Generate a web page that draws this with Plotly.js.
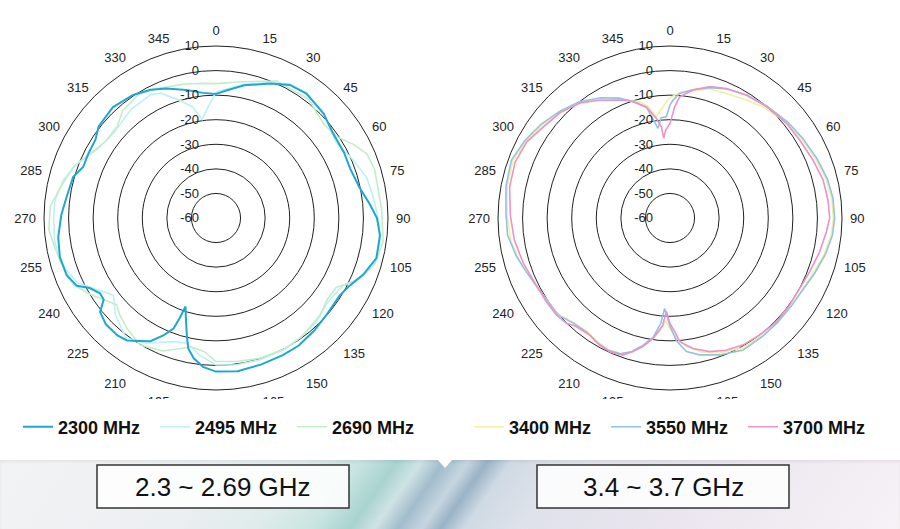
<!DOCTYPE html>
<html>
<head>
<meta charset="utf-8">
<script src="https://cdn.plot.ly/plotly-3.0.1.min.js"></script>
<style>
  body { margin: 0; background: #fff; }
  #wrap { position: relative; width: 900px; height: 529px; overflow: hidden; background: #fff; }
  #band {
    position: absolute; left: 0; top: 460px; width: 900px; height: 69px;
    background: linear-gradient(125deg, #f2f3f5 0%, #eceff1 22%, #dfeceb 32%, #c9e5e1 38%, #a9d3cf 42%, #cfe3e4 44.5%, #a2bccc 47%, #c6d6e0 49.5%, #9ab3c6 51.5%, #cfdae4 54%, #dfe2ea 60%, #e8e4ee 72%, #f0eaf2 86%, #f7f2f6 100%);
    box-shadow: inset 0 2px 3px rgba(0,0,0,0.06);
  }
  #notch {
    position: absolute; left: 437px; top: 459px; width: 0; height: 0;
    border-left: 8px solid transparent; border-right: 8px solid transparent; border-top: 9px solid #fff;
  }
  #chart { position: absolute; left: 0; top: 0; width: 900px; height: 529px; }
</style>
</head>
<body>
<div id="wrap">
  <div id="band"></div>
  <div id="notch"></div>
  <div id="chart"></div>
</div>
<script>
// angular ticks and radial rings
var angleTicks = [0,15,30,45,60,75,90,105,120,135,150,165,180,195,210,225,240,255,270,285,300,315,330,345];
var ringTicks = [-60,-50,-40,-30,-20,-10,0,10];

// 2.3 ~ 2.69 GHz
var theta2300 = [0,5,12,22,29,36,46,54,63,70,78,85,90,96,104,111,117,122,131,139,147,154,163,172,180,185,189,192,194,197,199,200,201,204,208,212,216,220,226,231,234,237,241,244,249,256,263,271,278,286,291,297,303,308,317,326,333,339,347,354,360];
var r2300 = [-9.5,-7.8,-4.8,-1,1.9,2.6,1,-1.2,-1.5,-1.8,-0.3,2.9,5.5,7.1,7.3,4.2,0.9,-0.6,-0.2,0.8,1.9,2.1,2.4,3,2.5,0.8,-2.2,-5.7,-10.9,-18,-21.9,-16.6,-11.8,-7.8,-3.2,-1,1.6,2.4,2.3,0.7,-3.5,-3.7,-1.2,3,5.1,5.5,4.7,3,1.4,0.5,-2.1,-1.8,-1.5,0.6,1.6,0.4,-1.4,-3.5,-6.5,-8.8,-9.5];

var theta2495 = [0,2,12,22,29,36,46,52,58,67,75,82,90,99,107,113,118,127,136,145,153,163,172,180,187,193,199,209,217,226,233,239,245,254,262,270,276,284,291,300,310,322,332,336,343,348,352,356,360];
var r2495 = [-8.8,-8.2,-4.3,-0.5,2.3,2.8,1,-1,-2.3,0.6,3.5,4.5,6,7.6,6.8,3.4,-1.5,-3.1,-1.2,-0.4,0.3,0.4,0.3,-0.2,-3.9,-7.7,-6.8,-1.7,1,-3.1,-7.8,-3.4,2.3,5.9,6.3,6.1,5.9,4,0.8,-4.2,-5.9,-3.9,-3.2,-4.4,-9.9,-13.8,-19.5,-14.6,-8.8];

var theta2690 = [0,11,24,38,49,56,62,67,73,80,87,98,106,114,120,126,133,143,152,163,172,180,185,191,195,202,211,219,225,229,233,239,245,252,259,266,274,281,290,297,305,313,319,328,335,347,355,360];
var r2690 = [-5.3,-3.5,1,1.3,-1.8,-0.8,3.6,6.7,7.5,7,7.5,8.7,7.4,2.5,-3.5,-3.9,-2.1,-0.6,0.3,-0.2,-1,-1.6,-5.4,-6.6,-5,-1.6,0.2,-2.3,-4.5,-6.3,-4,0,4.1,5.3,6.6,8.2,7.6,4.6,1.6,-2.4,-5.4,-5.1,-2.1,-0.6,-2,-4,-5,-5.3];

// 3.4 ~ 3.7 GHz
var theta3400 = [0,5,10,17,24,32,40,50,59,68,76,83,90,96,103,111,118,126,134,142,151,160,167,173,177,180,182.5,185,188,192,196,200,205,210,216,222,229,243,253,262,271,281,290,298,306,314,322,330,337,342,346,349,352.3,355,358,360];
var r3400 = [-11,-8.5,-7.5,-5,-4.4,-3,-1,1,2.5,4,5.5,6.3,6.5,6,4.5,2.5,1.2,1,1,0.8,0.5,-1.5,-4,-7.5,-11,-15,-18,-14,-10.5,-6.5,-3.2,-1.2,-0.8,-1.5,-2.8,-2.2,0,1.2,3.5,5.5,6.3,7.5,8,6.5,4.3,2.3,-0.5,-4,-7.5,-9.8,-11.5,-14,-18.4,-16,-13,-11];

var theta3550 = [0,1.5,4.4,10,17,24,32,41,51,59,68,76,83,90,96,103,111,118,126,134,142,151,160,167.8,173,177,180,183.4,185,188,192,196,200,205,210,216,222,229,243,250,256,264,272,281,290,298,306,314,322,330,337,342,348,352.4,355,357.9,360];
var r3550 = [-14,-12,-9.2,-7,-4.5,-2.5,-1,0.3,1.8,3,4.5,6,6.8,7,6.5,5,3,1.5,1,1,1.2,1.4,-0.7,-3,-5.2,-10,-16,-23.1,-17,-11,-7,-3.5,-1.2,-0.6,-1.2,-2.5,-2,0.3,1,2.6,4.4,6.5,6.8,8,8.7,7,4.9,2.5,0,-3.5,-7,-10,-14,-23.2,-19,-18.8,-14];

var theta3700 = [0,2.4,4.6,10,17,23.5,32,41,51,59,68,76,83.5,90,95,103,111,118.5,126,134,142.5,150,157,163.5,170,175.5,177.6,180,182.2,184,188,192,195.5,199,204,209,214.5,221,224.5,229.5,236,243,253,262,271,281,290,298,306,314,322,329,337,340,342.4,348,352.2,354.6,355.5,357.2,360];
var r3700 = [-21.5,-14.7,-10.5,-7.1,-4.1,-2.5,-1.1,0,1.1,1.6,2.8,4.2,4.7,5,3.9,2.4,0.9,0.1,0.2,0.5,0,-0.4,-1.5,-3.3,-6.1,-9.5,-13.7,-17,-21.9,-16,-10.5,-6.5,-3.6,-1,-0.3,-0.8,-2.2,-1.6,0.1,0.8,0.8,0.9,2.5,4,5,6.5,7,6,3.4,1.9,-0.6,-4.1,-7.8,-9.1,-10.3,-13.8,-19.1,-22.7,-27.4,-24.2,-21.5];

var FONT = '"Liberation Sans", Arial, sans-serif';

function line(name, th, r, color, width, subplot, legend, rank) {
  return {
    type: 'scatterpolar', mode: 'lines', name: name,
    theta: th, r: r, subplot: subplot, legend: legend, legendrank: rank,
    line: {color: color, width: width}
  };
}

// faint lines first so the dark 2300 line sits on top
var data = [
  line('2495 MHz', theta2495, r2495, '#bff0f6', 1.6, 'polar', 'legend', 2),
  line('2690 MHz', theta2690, r2690, '#c3edc9', 1.6, 'polar', 'legend', 3),
  line('2300 MHz', theta2300, r2300, '#1fa8cf', 2, 'polar', 'legend', 1),
  line('3400 MHz', theta3400, r3400, '#f3f0a0', 1.6, 'polar2', 'legend2', 1),
  line('3550 MHz', theta3550, r3550, '#93c2e6', 1.6, 'polar2', 'legend2', 2),
  line('3700 MHz', theta3700, r3700, '#ec92c6', 1.6, 'polar2', 'legend2', 3)
];

function polar(x0, x1) {
  return {
    domain: {x: [x0 / 900, x1 / 900], y: [1 - 390 / 529, 1 - 46 / 529]},
    bgcolor: 'rgba(0,0,0,0)',
    angularaxis: {
      rotation: 90, direction: 'clockwise',
      tickmode: 'array', tickvals: angleTicks, ticktext: angleTicks.map(String),
      showgrid: false, linecolor: '#222', linewidth: 1,
      ticks: 'outside', ticklen: 5, tickcolor: 'rgba(0,0,0,0)',
      tickfont: {family: FONT, size: 13, color: '#222'}
    },
    radialaxis: {
      range: [-60, 10], tickmode: 'array', tickvals: ringTicks,
      ticktext: ringTicks.map(String),
      showline: false, gridcolor: '#222', gridwidth: 1,
      ticks: 'outside', ticklen: 12, tickcolor: 'rgba(0,0,0,0)',
      angle: 90, tickangle: 90, side: 'counterclockwise',
      tickfont: {family: FONT, size: 13, color: '#222'}
    }
  };
}

var legendBase = {
  orientation: 'h', yanchor: 'middle', xanchor: 'left', y: 1 - 427 / 529,
  font: {family: FONT, size: 18, color: '#111', weight: 'bold'},
  bgcolor: 'rgba(0,0,0,0)', entrywidth: 92, entrywidthmode: 'pixels',
  itemclick: false, itemdoubleclick: false, traceorder: 'normal'
};

var layout = {
  width: 900, height: 529,
  margin: {l: 0, r: 0, t: 0, b: 0, autoexpand: false},
  paper_bgcolor: 'rgba(0,0,0,0)',
  showlegend: true,
  polar: polar(44, 388),
  polar2: polar(498, 842),
  legend: Object.assign({x: 18 / 900}, legendBase),
  legend2: Object.assign({x: 469 / 900}, legendBase),
  shapes: [
    {type: 'rect', xref: 'paper', yref: 'paper', layer: 'above',
     x0: 0, x1: 1, y0: 1 - 460 / 529, y1: 1 - 399 / 529,
     fillcolor: '#fff', line: {width: 0}},
    {type: 'rect', xref: 'paper', yref: 'paper', layer: 'above',
     x0: 97 / 900, x1: 349 / 900, y0: 1 - 508 / 529, y1: 1 - 465 / 529,
     fillcolor: 'rgba(255,255,255,0.85)', line: {color: '#333', width: 1.5}},
    {type: 'rect', xref: 'paper', yref: 'paper', layer: 'above',
     x0: 537 / 900, x1: 789 / 900, y0: 1 - 508 / 529, y1: 1 - 465 / 529,
     fillcolor: 'rgba(255,255,255,0.85)', line: {color: '#333', width: 1.5}}
  ],
  annotations: [
    {xref: 'paper', yref: 'paper', x: 223 / 900, y: 1 - 487 / 529, showarrow: false,
     xanchor: 'center', yanchor: 'middle',
     text: '2.3 ~ 2.69 GHz', font: {family: FONT, size: 26, color: '#111'}},
    {xref: 'paper', yref: 'paper', x: 663 / 900, y: 1 - 487 / 529, showarrow: false,
     xanchor: 'center', yanchor: 'middle',
     text: '3.4 ~ 3.7 GHz', font: {family: FONT, size: 26, color: '#111'}}
  ]
};

Plotly.newPlot('chart', data, layout, {staticPlot: true});
</script>
</body>
</html>
